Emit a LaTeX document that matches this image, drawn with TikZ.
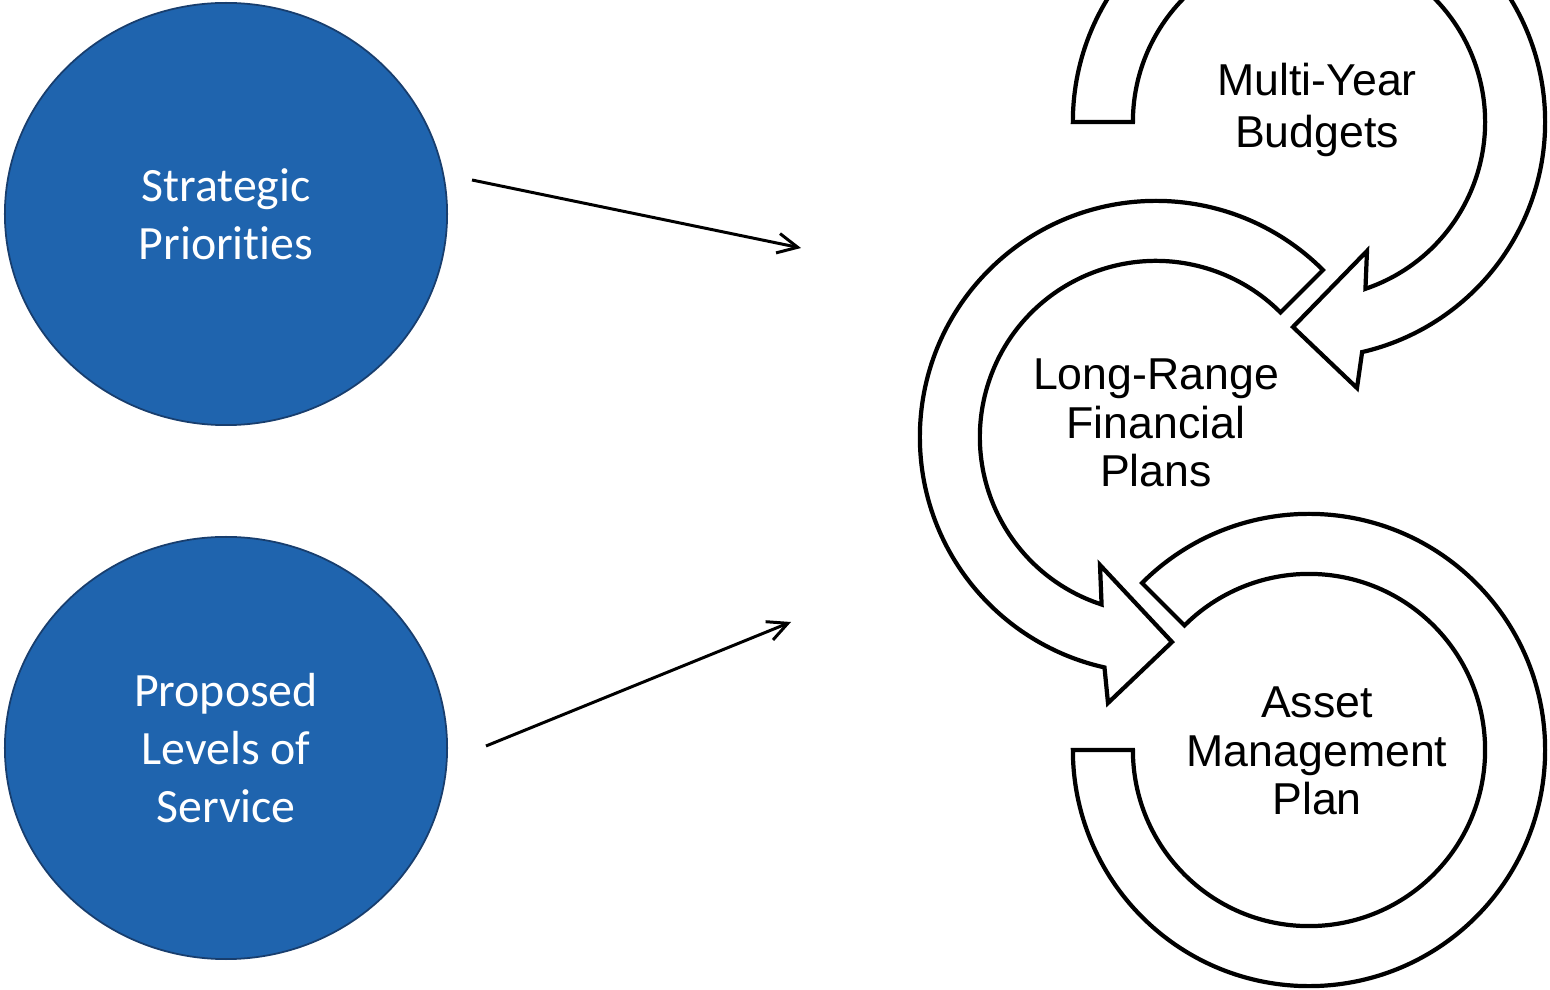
\documentclass[tikz,border=0pt]{standalone}
\usepackage{fontspec}
\setmainfont{Liberation Sans}
\newfontfamily\calibrifont[Ligatures=NoCommon]{Carlito}
\usetikzlibrary{shapes.geometric,arrows.meta,calc}
\definecolor{circblue}{RGB}{31,100,174}
\definecolor{circedge}{RGB}{24,62,110}
\tikzset{
  bluecirc/.style={ellipse, fill=circblue, draw=circedge, line width=0.5pt,
    minimum width=4.42cm, minimum height=4.22cm, inner sep=0pt,
    text=white, align=center, font=\calibrifont\fontsize{13.6pt}{16.4pt}\selectfont},
  ringarrow/.style={draw=black, fill=white, line width=1.2pt, line join=miter},
  ringtext/.style={align=center, text=black, inner sep=0pt,
    font=\fontsize{12.7pt}{13.8pt}\selectfont},
  feedarrow/.style={draw=black, line width=0.85pt,
    -{Straight Barb[length=5.7pt,width=5.6pt,line width=0.85pt]}}
}
\begin{document}
\begin{tikzpicture}[x=0.01cm,y=0.01cm]
\clip (0,0) rectangle (1550,990);
\fill[white] (0,0) rectangle (1550,990);

% blue circles
\node[bluecirc] (sp) at (226,776) {Strategic\\Priorities};
\node[bluecirc] (pls) at (226,242) {Proposed\\Levels of\\Service};

% ring centres
\coordinate (cT) at (1309,868);
\coordinate (cM) at (1156,553);
\coordinate (cB) at (1309,240);

% top ring arrow (Multi-Year Budgets)
\draw[ringarrow] ($(cT)+(180:2.36cm)$) arc[start angle=180,end angle=-77,radius=2.36cm]
  -- (1357,602) -- (1293,663) -- (1367,739)
  -- ($(cT)+(-71.3:1.76cm)$) arc[start angle=-71.3,end angle=180,radius=1.76cm] -- cycle;

% middle ring arrow (Long-Range Financial Plans)
\draw[ringarrow] ($(cM)+(45:2.36cm)$) arc[start angle=45,end angle=257.4,radius=2.36cm]
  -- (1108,287) -- (1172,348) -- (1100,425)
  -- ($(cM)+(252:1.76cm)$) arc[start angle=252,end angle=45,radius=1.76cm] -- cycle;

% bottom ring (Asset Management Plan)
\draw[ringarrow] ($(cB)+(135:2.36cm)$) arc[start angle=135,end angle=-180,radius=2.36cm]
  -- ($(cB)+(-180:1.76cm)$) arc[start angle=-180,end angle=135,radius=1.76cm] -- cycle;

% ring texts
\node[ringtext, font=\fontsize{12.7pt}{14.8pt}\selectfont] (myb) at (1317,880) {Multi-Year\\Budgets};
\node[ringtext] (lrfp) at (1156,567) {Long-Range\\Financial\\Plans};
\node[ringtext] (amp) at (1317,239) {Asset\\Management\\Plan};

% feed arrows
\coordinate (a1s) at (472,810);
\coordinate (a1e) at (801,742);
\coordinate (a2s) at (486,244);
\coordinate (a2e) at (791,368);
\draw[feedarrow] (a1s) -- (a1e);
\draw[feedarrow] (a2s) -- (a2e);
\end{tikzpicture}
\end{document}
